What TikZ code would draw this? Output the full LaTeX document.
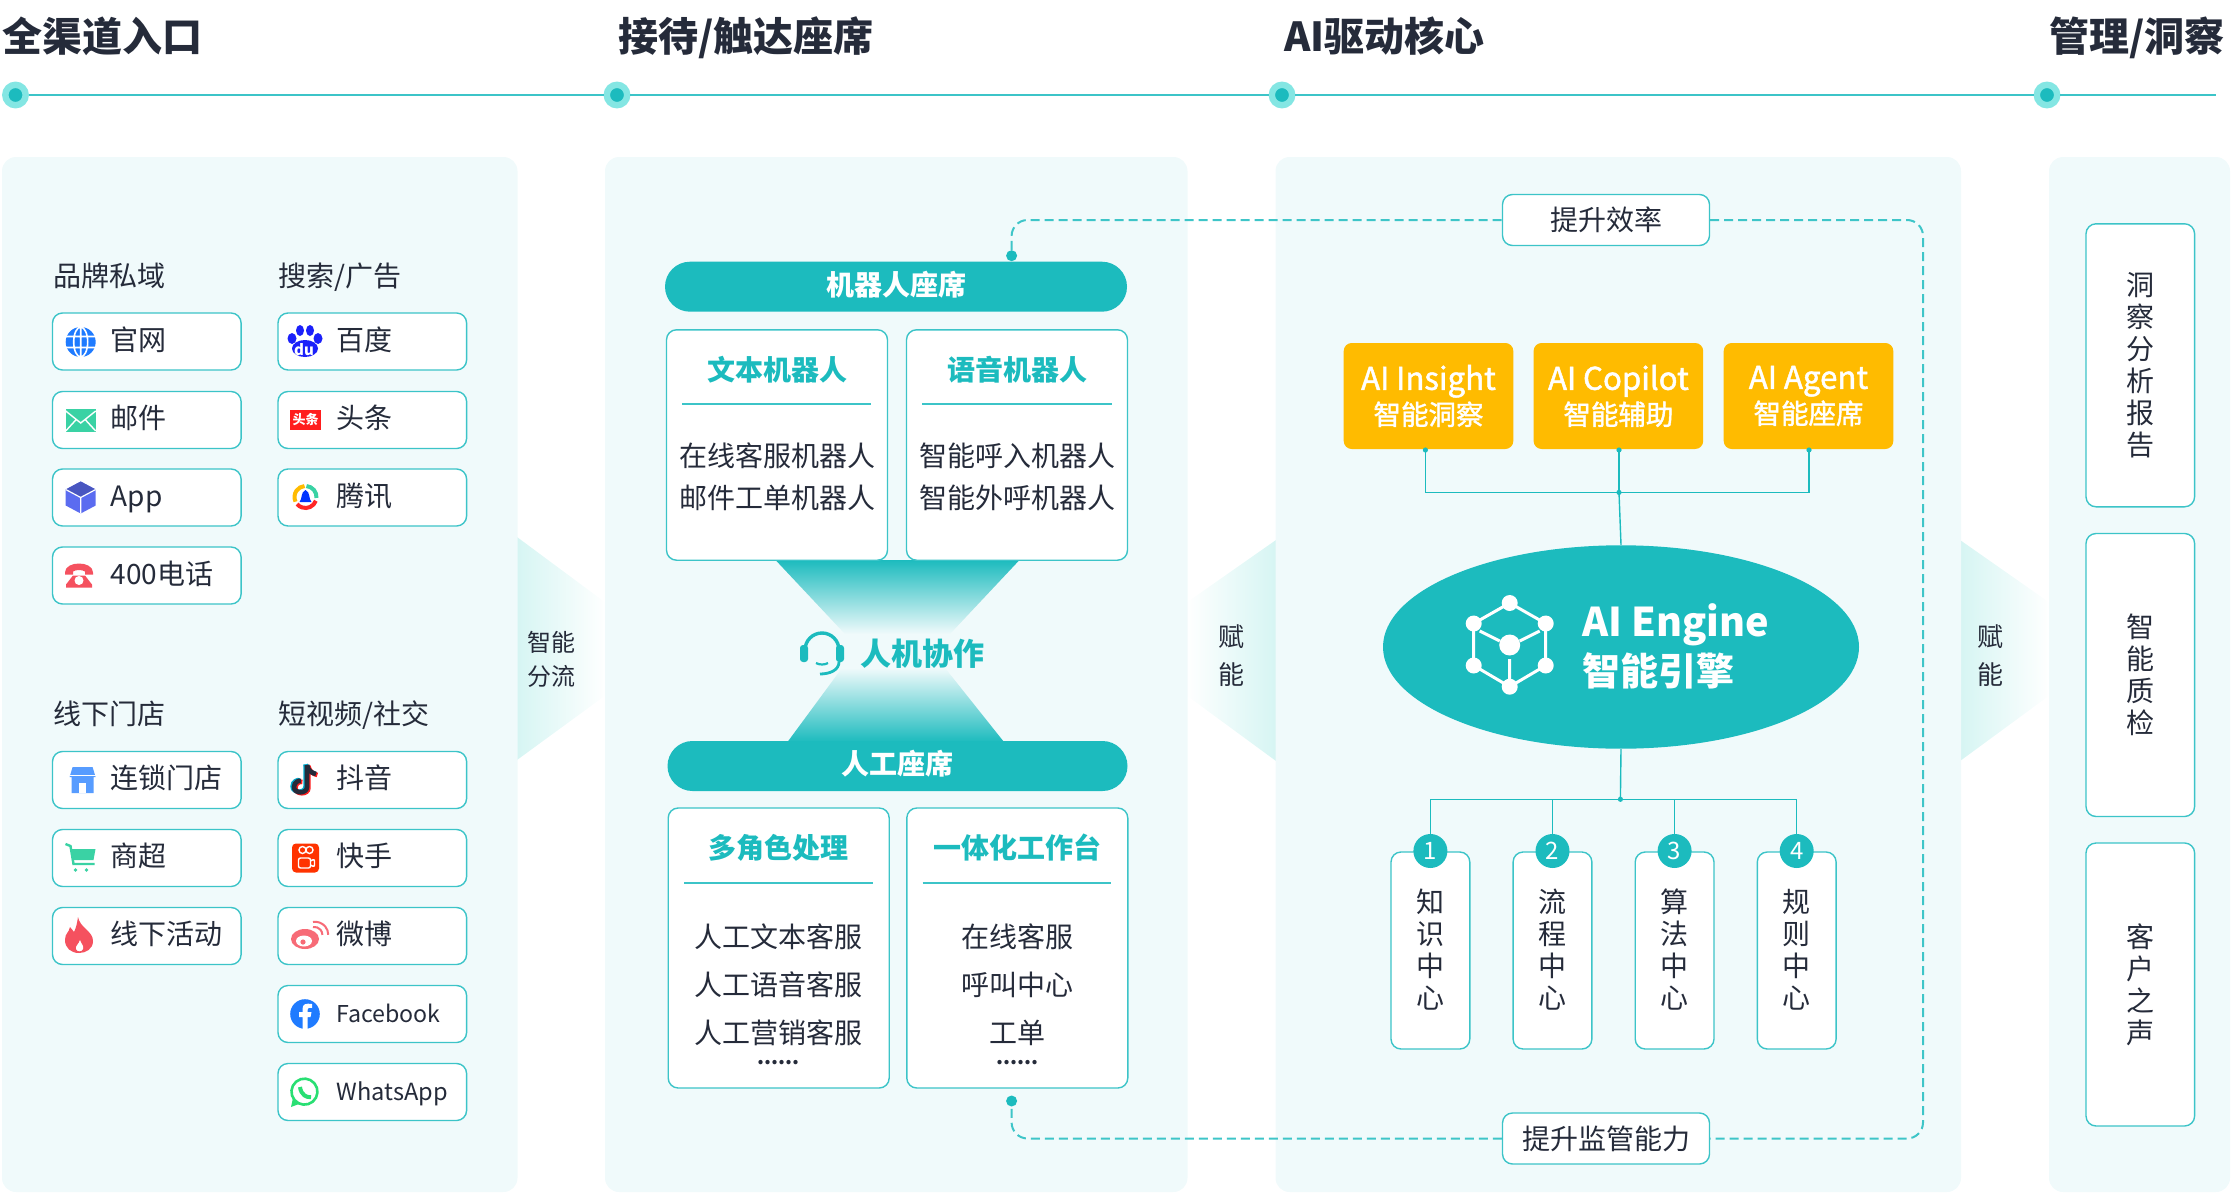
\documentclass[tikz,border=0pt]{standalone}
\usepackage{fontspec}
\usepackage{xcolor}
\setmainfont{Noto Sans CJK SC}
\newfontfamily\medfont[FakeBold=1.5]{Noto Sans CJK SC}
\usetikzlibrary{shapes.geometric}
\definecolor{csink}{HTML}{252B3A}
\definecolor{csteal}{HTML}{1CBBBE}
\definecolor{csline}{HTML}{3CC4C8}
\definecolor{csring}{HTML}{84E6E3}
\definecolor{cspanel}{HTML}{F0FAFB}
\definecolor{cswedge}{HTML}{D6F5F3}
\definecolor{csamber}{HTML}{FFBB00}
\definecolor{csblue}{HTML}{1F7BFF}
\definecolor{csgreen}{HTML}{3AD2A4}
\definecolor{cspurple}{HTML}{5B6CF0}
\definecolor{csred}{HTML}{F5515F}
\tikzset{
  globeicon/.pic={
    \fill[csblue] (0,0) circle (15);
    \draw[white,line width=.8pt] (-15,-5.5) -- (15,-5.5) (-15,5.5) -- (15,5.5) (0,-15) -- (0,15) (0,0) ellipse [x radius=7,y radius=15];
  },
  mailicon/.pic={
    \fill[csgreen] (-15,-11) rectangle (15,12);
    \draw[white,line width=.7pt] (-15,-9) -- (0,3) -- (15,-9) (-15,11) -- (-4,-1) (15,11) -- (4,-1);
  },
  cubeicon/.pic={
    \fill[cspurple] (0,-16) -- (15,-8) -- (15,8) -- (0,16) -- (-15,8) -- (-15,-8) -- cycle;
    \fill[cspurple!80!black] (0,-16) -- (15,-8) -- (0,0) -- (-15,-8) -- cycle;
    \draw[white,line width=.6pt] (-15,-8) -- (0,0) -- (15,-8) (0,0) -- (0,16);
  },
  phoneicon/.pic={
    \fill[csred] (-14,-3) .. controls (-14,-15) and (14,-15) .. (14,-3) -- (14,-1) -- (6,-1) -- (6,-4) .. controls (3,-6) and (-3,-6) .. (-6,-4) -- (-6,-1) -- (-14,-1) -- cycle;
    \fill[csred] (-6,0) -- (6,0) -- (13,9) -- (13,12) -- (-13,12) -- (-13,9) -- cycle;
    \fill[white] (0,5) circle (4.5);
  },
  pawicon/.pic={
    \fill[blue!70!cspurple] (-13,-3) ellipse [x radius=4.5,y radius=5.5] (-5,-11) ellipse [x radius=4,y radius=5.5] (5,-11) ellipse [x radius=4,y radius=5.5] (13,-3) ellipse [x radius=4.5,y radius=5.5] (0,7) ellipse [x radius=13,y radius=8.5];
    \node[text=white,inner sep=0,font=\fontsize{7.5}{8}\selectfont\bfseries] (pawdu) at (-1,8) {du};
  },
  toutiaoicon/.pic={
    \node[fill=red!85!pink,text=white,inner sep=0,minimum width=15.5pt,minimum height=10pt,font=\fontsize{6.5}{7}\selectfont\bfseries] (ttmark) at (0,0) {头条};
  },
  tencenticon/.pic={
    \draw[csgreen,line width=2pt] (-85:11) arc (-85:5:11);
    \draw[red!80!pink,line width=2pt] (20:11) arc (20:140:11);
    \draw[csamber,line width=2pt] (155:11) arc (155:265:11);
    \fill[blue!80!cyan] (0,-7) .. controls (-5,-5) and (-3,2) .. (-6,5) -- (6,5) .. controls (3,2) and (5,-5) .. (0,-7) -- cycle;
  },
  storeicon/.pic={
    \fill[csblue!75!white] (-10,-13) -- (10,-13) -- (13,-3) -- (-13,-3) -- cycle (-11,-3) rectangle (11,13);
    \draw[white,line width=.5pt] (-13,-5) -- (13,-5);
    \fill[white] (-3.5,3) rectangle (3.5,13);
  },
  carticon/.pic={
    \draw[csgreen,line width=1.2pt] (-15,-14) -- (-10,-12) -- (-7,6) -- (14,6);
    \fill[csgreen] (-9,-9) -- (15,-9) -- (13,2) -- (-7,2) -- cycle (-5,12) circle (1.8) (6,12) circle (1.8);
  },
  flameicon/.pic={
    \fill[csred] (-1,-19) .. controls (1,-8) and (14,-5) .. (14,5) .. controls (14,13) and (7,17) .. (0,17) .. controls (-8,17) and (-14,12) .. (-14,4) .. controls (-14,-3) and (-10,-3) .. (-9,-9) .. controls (-7,-7) and (-6,-5) .. (-5,-4) .. controls (-3,-8) and (-2,-12) .. (-1,-19) -- cycle;
    \fill[white] (1,4) .. controls (2,8) and (5,9) .. (4,13) .. controls (3,16) and (-2,16) .. (-3,13) .. controls (-4,10) and (0,8) .. (1,4) -- cycle;
  },
  tiktokicon/.pic={
    \foreach \dx/\dy/\col in {-1.4/-.6/cyan!80!green,1.4/1/red!85!pink,0/0/csink}{
      \draw[\col,line width=2.3pt] (3+\dx,-15+\dy) -- (3+\dx,7+\dy) .. controls (3+\dx,14+\dy) and (-10+\dx,14+\dy) .. (-10+\dx,7+\dy) .. controls (-10+\dx,2+\dy) and (-5+\dx,0+\dy) .. (-3+\dx,1+\dy);
      \draw[\col,line width=2.3pt] (3+\dx,-15+\dy) .. controls (4+\dx,-9+\dy) and (8+\dx,-7+\dy) .. (12+\dx,-6+\dy);
    }
  },
  kuaishouicon/.pic={
    \fill[orange!40!red,rounded corners=2pt] (-13.5,-14.5) rectangle (13.5,14.5);
    \draw[white,line width=.7pt] (-3,-8) circle (3.5) (4,-8) circle (3.5);
    \draw[white,line width=.7pt,rounded corners=1pt] (-7,0) rectangle (5,10) (5,3) -- (9,1) -- (9,9) -- (5,7);
  },
  weiboicon/.pic={
    \fill[csred!85!white] (-3,4) ellipse [x radius=14,y radius=10];
    \fill[white] (-4,6) ellipse [x radius=8,y radius=5.5];
    \fill[csred!85!white] (-5,7) circle (2.6);
    \draw[csred!85!white,line width=1pt] (5,-8) arc (-100:0:8);
    \draw[csred!85!white,line width=1pt] (5,-13) arc (-100:0:13);
  },
  fbicon/.pic={
    \fill[csblue] (0,0) circle (14.8);
    \fill[white] (-2.5,14.8) -- (-2.5,3) -- (-6,3) -- (-6,-2) -- (-2.5,-2) -- (-2.5,-5) .. controls (-2.5,-10) and (1,-11) .. (7,-10) -- (7,-6) .. controls (3,-6.5) and (2.5,-6) .. (2.5,-2) -- (6.5,-2) -- (5.5,3) -- (2.5,3) -- (2.5,14.8) -- cycle;
  },
  whatsicon/.pic={
    \draw[csgreen!70!green,line width=1.3pt] (-10.5,8) arc (140:-220:13) ;
    \fill[csgreen!70!green] (-14,15) -- (-12,6) -- (-6,12) -- cycle;
    \draw[csgreen!70!green,line width=2pt] (-5,-5) .. controls (-4,3) and (2,6) .. (6,5);
  },
  headseticon/.pic={
    \draw[csteal,line width=1.7pt] (-17,-2) arc (180:360:17);
    \fill[csteal,rounded corners=1.5pt] (-22,-7) rectangle (-14,10) (14,-7) rectangle (22,10);
    \draw[csteal,line width=1.4pt] (17,10) .. controls (17,18) and (8,22) .. (-2,22);
    \draw[csteal,line width=1.1pt] (-6,11) .. controls (-3,13) and (3,13) .. (6,11);
  },
  cubeengine/.pic={
    \draw[white,line width=1.5pt] (0,-42) -- (36,-21.5) -- (36,20.5) -- (0,41.7) -- (-36,20.5) -- (-36,-21.5) -- cycle (-30,-14) -- (-10,-4) (30,-14) -- (10,-4) (0,14) -- (0,41.7);
    \fill[white] (0,-42) circle (8) (36,-21.5) circle (8) (36,20.5) circle (8) (0,41.7) circle (8) (-36,20.5) circle (8) (-36,-21.5) circle (8) (0,0) circle (10.5);
  },
}
\begin{document}
\begin{tikzpicture}[
  x=.5pt,y=-.5pt,
  every node/.style={font=\fontsize{14}{16}\selectfont,text=csink,align=center,inner sep=0},
  headtext/.style={font=\fontsize{20}{22}\selectfont\bfseries,anchor=west,text height=17pt,text depth=2.5pt},
  grouplabel/.style={anchor=west,text height=12pt,text depth=2pt},
  raildot/.style={circle,fill=csteal,draw=csring,line width=3.2pt,minimum size=10.2pt},
  rail/.style={csline,line width=1.2pt},
  panel/.style={fill=cspanel,rounded corners=7pt},
  wedge/.style={left color=cswedge,right color=white},
  wedgeback/.style={left color=white,right color=cswedge},
  chanbox/.style={draw=csline,fill=white,line width=.7pt,rounded corners=5pt,minimum width=94.3pt,minimum height=28.5pt,text width=94.3pt,align=left,text height=10.6pt,text depth=2pt,execute at begin node={\hspace*{29.2pt}}},
  pill/.style={fill=csteal,rounded corners=12.5pt,minimum height=25pt,text=white,font=\fontsize{14}{16}\selectfont\bfseries,text height=12pt,text depth=3.3pt},
  card/.style={draw=csline,fill=white,line width=.7pt,rounded corners=5pt,minimum width=110.5pt},
  cardhead/.style={text=csteal,font=\fontsize{14}{16}\selectfont\bfseries},
  cardrule/.style={csline,line width=.8pt},
  tagbox/.style={draw=csline,fill=white,line width=.7pt,rounded corners=5pt,minimum width=103.5pt,minimum height=25.5pt},
  dashrun/.style={csteal!85!white,line width=1pt,dash pattern=on 4.5pt off 2.5pt,rounded corners=8pt},
  ambox/.style={fill=csamber,rounded corners=4pt,minimum width=84.8pt,minimum height=53pt,text=white,font=\medfont\fontsize{13.75}{17.5}\selectfont},
  link/.style={csteal,line width=.7pt},
  centerbox/.style={draw=csline,fill=white,line width=.7pt,rounded corners=5pt,minimum width=39.4pt,minimum height=98.5pt},
  numdot/.style={circle,fill=csteal,minimum size=17pt,text=white,font=\fontsize{12}{14}\selectfont},
  sidebox/.style={draw=csline,fill=white,line width=.7pt,rounded corners=5pt,minimum width=54.3pt,minimum height=141.5pt},
]
\useasboundingbox (0,0) rectangle (2234,1194);

% headings and rail
\node[headtext] (headin) at (2,37) {全渠道入口};
\node[headtext] (headseat) at (618,37) {接待/触达座席};
\node[headtext] (headcore) at (1284,37) {AI驱动核心};
\node[headtext] (headmgmt) at (2049,37) {管理/洞察};
\node[raildot] (railone) at (15.5,95) {};
\node[raildot] (railtwo) at (617,95) {};
\node[raildot] (railthree) at (1282,95) {};
\node[raildot] (railfour) at (2047,95) {};
\coordinate (railend) at (2216,95);
\draw[rail] (railone) -- (railtwo);
\draw[rail] (railtwo) -- (railthree);
\draw[rail] (railthree) -- (railfour);
\draw[rail] (railfour) -- (railend);

% wedges between the panels
\shade[wedge] (517,537) -- (606,603) -- (606,695) -- (517,760) -- cycle;
\shade[wedgeback] (1186,603) -- (1276,540) -- (1276,761) -- (1186,695) -- cycle;
\shade[wedge] (1960,540) -- (2050,603) -- (2050,695) -- (1960,761) -- cycle;

% panels
\fill[panel] (2,157) rectangle (517.5,1192);
\fill[panel] (605,157) rectangle (1187.5,1192);
\fill[panel] (1275.5,157) rectangle (1961,1192);
\fill[panel] (2049,157) rectangle (2230,1192);

\node[font=\fontsize{12}{17}\selectfont] (flowtext) at (551,659) {智能\\分流};
\node[font=\fontsize{13}{19}\selectfont] (giftone) at (1231,656) {赋\\能};
\node[font=\fontsize{13}{19}\selectfont] (gifttwo) at (1990,656) {赋\\能};

% channels
\node[grouplabel] (privlabel) at (53,276) {品牌私域};
\node[grouplabel] (adlabel) at (278,276) {搜索/广告};
\node[grouplabel] (storelabel) at (53,714) {线下门店};
\node[grouplabel] (sociallabel) at (278,714) {短视频/社交};

\node[chanbox] (guanwang) at (146.8,341.5) {官网};
\node[chanbox] (youjian) at (146.8,420) {邮件};
\node[chanbox] (appbox) at (146.8,497.5) {App};
\node[chanbox] (phonebox) at (146.8,575.5) {400电话};
\node[chanbox] (baidu) at (372.3,341.5) {百度};
\node[chanbox] (toutiao) at (372.3,420) {头条};
\node[chanbox] (tengxun) at (372.3,497.5) {腾讯};
\node[chanbox] (liansuo) at (146.8,780) {连锁门店};
\node[chanbox] (shangchao) at (146.8,858) {商超};
\node[chanbox] (huodong) at (146.8,936) {线下活动};
\node[chanbox] (douyin) at (372.3,780) {抖音};
\node[chanbox] (kuaishou) at (372.3,858) {快手};
\node[chanbox] (weibo) at (372.3,936) {微博};
\node[chanbox,font=\fontsize{11.6}{16}\selectfont] (facebook) at (372.3,1014) {Facebook};
\node[chanbox,font=\fontsize{11.8}{16}\selectfont] (whatsapp) at (372.3,1092) {WhatsApp};

\pic at (80.7,342) {globeicon};
\pic at (80.7,420) {mailicon};
\pic at (80.7,497.5) {cubeicon};
\pic at (79,575.5) {phoneicon};
\pic at (305,341.5) {pawicon};
\pic at (305.5,419.5) {toutiaoicon};
\pic at (305.5,497) {tencenticon};
\pic at (82.6,780) {storeicon};
\pic at (80.5,858) {carticon};
\pic at (79,936) {flameicon};
\pic at (304,780) {tiktokicon};
\pic at (305.5,858) {kuaishouicon};
\pic at (308,935) {weiboicon};
\pic at (305,1014) {fbicon};
\pic at (305,1092) {whatsicon};

% seats
\shade[top color=csteal,bottom color=cspanel] (775.5,560) -- (1019.5,560) -- (950,634) -- (845,634) -- cycle;
\shade[top color=cspanel,bottom color=csteal] (842,668) -- (945,668) -- (1004,742) -- (787.5,742) -- cycle;

\node[pill,minimum width=231pt] (robotseat) at (896,286.7) {机器人座席};
\node[card,minimum height=115.2pt] (textbot) at (777,445) {};
\node[card,minimum height=115.2pt] (voicebot) at (1017,445) {};
\node[cardhead] (textbothead) at (777,369.5) {文本机器人};
\node[cardhead] (voicebothead) at (1017,369.5) {语音机器人};
\draw[cardrule] (682,404) -- (871,404);
\draw[cardrule] (922,404) -- (1111.5,404);
\node[font=\fontsize{14}{21}\selectfont] (textbotlist) at (777,477) {在线客服机器人\\邮件工单机器人};
\node[font=\fontsize{14}{21}\selectfont] (voicebotlist) at (1017,477) {智能呼入机器人\\智能外呼机器人};

\pic at (822,652) {headseticon};
\node[text=csteal,anchor=west,font=\fontsize{15.5}{18}\selectfont\bfseries] (teamwork) at (860,653.5) {人机协作};

\node[pill,minimum width=230pt] (humanseat) at (897.5,766) {人工座席};
\node[card,minimum height=140pt] (rolecard) at (778.7,948) {};
\node[card,minimum height=140pt] (deskcard) at (1017.3,948) {};
\node[cardhead] (rolehead) at (778.7,848) {多角色处理};
\node[cardhead] (deskhead) at (1017.3,848) {一体化工作台};
\draw[cardrule] (684,882.7) -- (873,882.7);
\draw[cardrule] (922.6,882.7) -- (1111.4,882.7);
\node[font=\fontsize{14}{24}\selectfont] (rolelist) at (778.7,985) {人工文本客服\\人工语音客服\\人工营销客服};
\node[font=\fontsize{14}{24}\selectfont] (desklist) at (1017.3,985) {在线客服\\呼叫中心\\工单};
\node[font=\fontsize{10}{10}\selectfont\bfseries] (rolemore) at (778.7,1063) {......};
\node[font=\fontsize{10}{10}\selectfont\bfseries] (deskmore) at (1017.3,1063) {......};

% feedback loop
\node[tagbox] (efftag) at (1606,220) {提升效率};
\node[tagbox] (suptag) at (1606,1138.5) {提升监管能力};
\node[circle,fill=csteal,minimum size=5.5pt] (topdot) at (1011.6,255.7) {};
\node[circle,fill=csteal,minimum size=5.5pt] (botdot) at (1011.6,1101) {};
\coordinate (loopcorner) at (1923,220);
\draw[dashrun] (topdot) |- (efftag);
\draw[dashrun] (efftag) -- (loopcorner) |- (suptag);
\draw[dashrun] (suptag) -| (botdot);

% engine
\node[ambox] (insight) at (1428.5,396) {\fontsize{15.6}{17.5}\selectfont AI Insight\\智能洞察};
\node[ambox] (copilot) at (1618.4,396) {\fontsize{15.6}{17.5}\selectfont AI Copilot\\智能辅助};
\node[ambox] (agent) at (1808.5,396) {\fontsize{15.6}{17.5}\selectfont AI Agent\\智能座席};
\node[ellipse,fill=csteal,minimum width=238pt,minimum height=101.7pt] (engine) at (1621,647) {};
\coordinate (insightdot) at (1425.4,450);
\coordinate (copilotdot) at (1619,450);
\coordinate (agentdot) at (1809,450);
\coordinate (topbus) at (1619,492.4);
\coordinate (lowbus) at (1620.4,799.3);
\draw[link] (insightdot) |- (topbus);
\draw[link] (agentdot) |- (topbus);
\draw[link] (copilotdot) -- (topbus);
\draw[link] (topbus) -- (engine.north);
\draw[link] (engine.south) -- (lowbus);
\fill[csteal] (insightdot) circle (2.6) (copilotdot) circle (2.6) (agentdot) circle (2.6) (topbus) circle (2.6) (lowbus) circle (2.6);
\pic at (1509.7,645) {cubeengine};
\node[anchor=west,text=white,align=left,font=\fontsize{19.8}{24.5}\selectfont\bfseries] (enginetext) at (1582,646) {AI Engine\\\fontsize{19}{24.5}\selectfont 智能引擎};

\node[centerbox] (zhishi) at (1430.4,950.5) {};
\node[centerbox] (liucheng) at (1552.5,950.5) {};
\node[centerbox] (suanfa) at (1674.6,950.5) {};
\node[centerbox] (guize) at (1796.7,950.5) {};
\node (zhishitext) at (1430.4,950) {知\\识\\中\\心};
\node (liuchengtext) at (1552.5,950) {流\\程\\中\\心};
\node (suanfatext) at (1674.6,950) {算\\法\\中\\心};
\node (guizetext) at (1796.7,950) {规\\则\\中\\心};
\node[numdot] (numone) at (1430.4,851) {1};
\node[numdot] (numtwo) at (1552.5,851) {2};
\node[numdot] (numthree) at (1674.6,851) {3};
\node[numdot] (numfour) at (1796.7,851) {4};
\draw[link] (lowbus) -| (numone);
\draw[link] (lowbus) -| (numtwo);
\draw[link] (lowbus) -| (numthree);
\draw[link] (lowbus) -| (numfour);

% management
\node[sidebox] (insightbox) at (2140.3,365.3) {洞\\察\\分\\析\\报\\告};
\node[sidebox] (qcbox) at (2140.3,675) {智\\能\\质\\检};
\node[sidebox] (voicebox) at (2140.3,984.5) {客\\户\\之\\声};
\end{tikzpicture}
\end{document}
